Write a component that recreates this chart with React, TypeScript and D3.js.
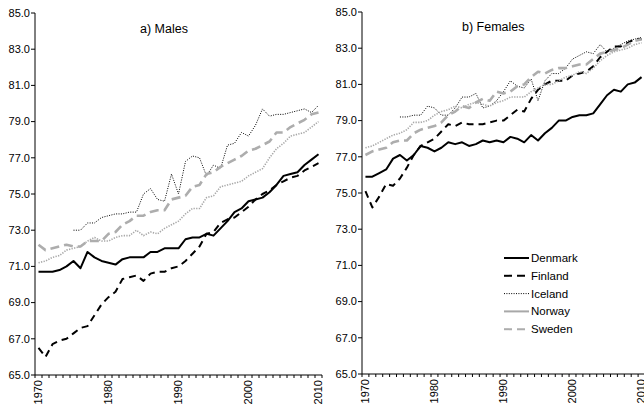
import React from "react";
import * as d3 from "d3";

const years: number[] = d3.range(1970, 2011);
const yTicks = [65, 67, 69, 71, 73, 75, 77, 79, 81, 83, 85];
const xLabelYears = [1970, 1980, 1990, 2000, 2010];
const countries = ["Denmark", "Finland", "Iceland", "Norway", "Sweden"];

// Males
const maleDenmark = [70.7,70.7,70.7,70.8,71.0,71.3,70.9,71.8,71.5,71.3, 71.2,71.1,71.4,71.5,71.5,71.5,71.8,71.8,72.0,72.0, 72.0,72.5,72.6,72.6,72.8,72.7,73.1,73.5,74.0,74.2, 74.6,74.7,74.8,75.1,75.5,76.0,76.1,76.2,76.6,76.9,77.2];
const maleFinland = [66.5,66.0,66.7,66.9,67.0,67.3,67.6,67.7,68.3,68.9, 69.3,69.6,70.3,70.4,70.5,70.2,70.6,70.7,70.7,70.9, 71.0,71.3,71.7,72.1,72.8,72.9,73.4,73.6,73.7,74.0, 74.3,74.7,75.0,75.2,75.5,75.7,75.9,76.0,76.3,76.5,76.7];
const maleIceland = [null,null,null,null,null,73.0,73.0,73.4,73.4,73.7, 73.8,73.9,73.9,74.0,74.0,75.0,75.3,74.7,74.6,76.1, 75.0,76.8,77.1,77.0,76.0,76.6,76.4,77.7,77.8,78.4, 78.2,78.8,79.7,79.3,79.4,79.4,79.5,79.6,79.7,79.5,79.9];
const maleNorway = [71.2,71.3,71.5,71.6,71.9,72.0,72.1,72.4,72.6,72.4, 72.4,72.6,72.7,72.7,73.0,72.7,72.9,72.8,73.1,73.3, 73.5,73.9,74.2,74.2,74.8,74.9,75.4,75.5,75.6,75.7, 76.0,76.2,76.4,77.0,77.5,77.8,78.2,78.3,78.4,78.7,79.0];
const maleSweden = [72.2,71.9,72.0,72.1,72.2,72.1,72.1,72.4,72.4,72.4, 72.8,72.9,73.3,73.5,73.8,73.8,74.0,74.1,74.1,74.7, 74.8,74.9,75.4,75.5,76.1,76.2,76.5,76.7,76.9,77.1, 77.4,77.5,77.7,77.9,78.4,78.4,78.7,78.9,79.1,79.4,79.5];

// Females
const femaleDenmark = [75.9,75.9,76.1,76.3,76.9,77.1,76.8,77.1,77.6,77.5, 77.3,77.5,77.8,77.7,77.8,77.6,77.7,77.9,77.8,77.9, 77.8,78.1,78.0,77.8,78.2,77.9,78.3,78.6,79.0,79.0, 79.2,79.3,79.3,79.4,79.9,80.4,80.7,80.6,81.0,81.1,81.4];
const femaleFinland = [75.1,74.2,74.8,75.5,75.4,75.8,76.4,77.1,77.6,77.8, 78.0,78.4,78.8,78.7,78.9,78.8,78.8,78.8,78.9,79.0, 79.0,79.3,79.6,79.5,80.2,80.7,81.0,81.2,81.2,81.2, 81.5,81.6,81.7,82.0,82.5,82.8,83.1,83.1,83.3,83.5,83.5];
const femaleIceland = [null,null,null,null,null,79.2,79.2,79.3,79.3,79.8, 79.7,79.3,79.3,79.7,80.3,80.3,80.5,79.7,79.8,80.1, 80.6,81.2,80.9,80.8,81.3,80.1,81.2,81.6,81.6,81.9, 82.4,82.6,82.8,82.7,83.2,82.8,83.0,83.2,83.4,83.5,83.6];
const femaleNorway = [77.5,77.6,77.8,78.0,78.2,78.3,78.5,78.9,78.9,79.0, 79.3,79.5,79.6,79.8,79.7,79.9,80.0,79.9,79.8,80.0, 80.1,80.3,80.3,80.3,80.6,80.8,81.0,81.0,81.2,81.4, 81.5,81.7,81.6,81.9,82.3,82.6,82.8,82.9,83.0,83.2,83.3];
const femaleSweden = [77.1,77.3,77.4,77.5,77.8,77.9,77.9,78.3,78.5,78.6, 78.7,78.9,79.3,79.5,79.8,79.7,80.0,80.2,80.1,80.6, 80.5,80.6,80.9,81.0,81.4,81.7,81.6,81.8,81.9,81.9, 82.0,82.1,82.1,82.4,82.7,82.8,82.9,83.0,83.2,83.4,83.5];

const maleSeries = [maleDenmark, maleFinland, maleIceland, maleNorway, maleSweden];
const femaleSeries = [femaleDenmark, femaleFinland, femaleIceland, femaleNorway, femaleSweden];

type Style = { stroke: string; width: number; dash?: string };
const lineStyles: Style[] = [
  { stroke: "#000", width: 2 },
  { stroke: "#000", width: 2, dash: "7,5" },
  { stroke: "#000", width: 1, dash: "1,1.4" },
  { stroke: "#a8a8a8", width: 1.6, dash: "1.3,1.3" },
  { stroke: "#adadad", width: 2.6, dash: "9,5" },
];
const legendStyles: Style[] = [
  { stroke: "#000", width: 2 },
  { stroke: "#000", width: 2, dash: "8,5" },
  { stroke: "#000", width: 1, dash: "1,1.4" },
  { stroke: "#a8a8a8", width: 2 },
  { stroke: "#adadad", width: 2, dash: "8,5" },
];

const FONT = "'Liberation Sans', Arial, sans-serif";

type PanelProps = {
  series: (number | null)[][];
  axisLeft: number;
  axisRight: number;
  yTop: number;
  yBottom: number;
  title: string;
  titleX: number;
  titleY: number;
  legend?: boolean;
};

function Panel({ series, axisLeft, axisRight, yTop, yBottom, title, titleX, titleY, legend }: PanelProps) {
  const band = d3.scaleBand<number>().domain(years).range([axisLeft, axisRight]).padding(0);
  const cx = (yr: number) => (band(yr) as number) + band.bandwidth() / 2;
  const y = d3.scaleLinear().domain([65, 85]).range([yBottom, yTop]);
  const line = d3
    .line<number | null>()
    .defined((d) => d != null)
    .x((_, i) => cx(years[i]))
    .y((d) => y(d as number));

  const tickXs = years.map((yr) => band(yr) as number).concat([axisRight]);

  return (
    <g>
      {series.map((s, i) => (
        <path
          key={i}
          d={line(s) || ""}
          fill="none"
          stroke={lineStyles[i].stroke}
          strokeWidth={lineStyles[i].width}
          strokeDasharray={lineStyles[i].dash}
          strokeLinejoin="round"
        />
      ))}
      <line x1={axisLeft} x2={axisLeft} y1={yTop} y2={yBottom} stroke="#000" strokeWidth={1} />
      {yTicks.map((t) => (
        <g key={t}>
          <line x1={axisLeft - 4} x2={axisLeft} y1={y(t)} y2={y(t)} stroke="#000" strokeWidth={1} />
          <text x={axisLeft - 5} y={y(t)} dy="0.35em" textAnchor="end" fontSize={11} fontFamily={FONT} fill="#000">
            {t.toFixed(1)}
          </text>
        </g>
      ))}
      <line x1={axisLeft} x2={axisRight} y1={yBottom} y2={yBottom} stroke="#000" strokeWidth={1} />
      {tickXs.map((tx, i) => (
        <line key={i} x1={tx} x2={tx} y1={yBottom} y2={yBottom + 3} stroke="#000" strokeWidth={1} />
      ))}
      {xLabelYears.map((yr) => (
        <text
          key={yr}
          transform={`translate(${cx(yr)},${yBottom + 5}) rotate(-90)`}
          dy="0.35em"
          textAnchor="end"
          fontSize={11}
          fontFamily={FONT}
          fill="#000"
        >
          {yr}
        </text>
      ))}
      <text x={titleX} y={titleY} fontSize={12.5} fontFamily={FONT} fill="#000">
        {title}
      </text>
      {legend &&
        countries.map((c, i) => {
          const ly = 258 + i * 17.8;
          return (
            <g key={c}>
              <line
                x1={504}
                x2={529}
                y1={ly}
                y2={ly}
                stroke={legendStyles[i].stroke}
                strokeWidth={legendStyles[i].width}
                strokeDasharray={legendStyles[i].dash}
              />
              <text x={531} y={ly} dy="0.35em" fontSize={11.5} fontFamily={FONT} fill="#000">
                {c}
              </text>
            </g>
          );
        })}
    </g>
  );
}

export default function App() {
  return (
    <svg
      width={644}
      height={407}
      style={{ position: "absolute", left: 0, top: 0, background: "#fff" }}
    >
      <rect x={0} y={0} width={644} height={407} fill="#fff" />
      <Panel
        series={maleSeries}
        axisLeft={35}
        axisRight={322}
        yTop={13}
        yBottom={375}
        title="a) Males"
        titleX={140}
        titleY={33}
      />
      <Panel
        series={femaleSeries}
        axisLeft={362}
        axisRight={645}
        yTop={12}
        yBottom={374}
        title="b) Females"
        titleX={462}
        titleY={31}
        legend
      />
    </svg>
  );
}
